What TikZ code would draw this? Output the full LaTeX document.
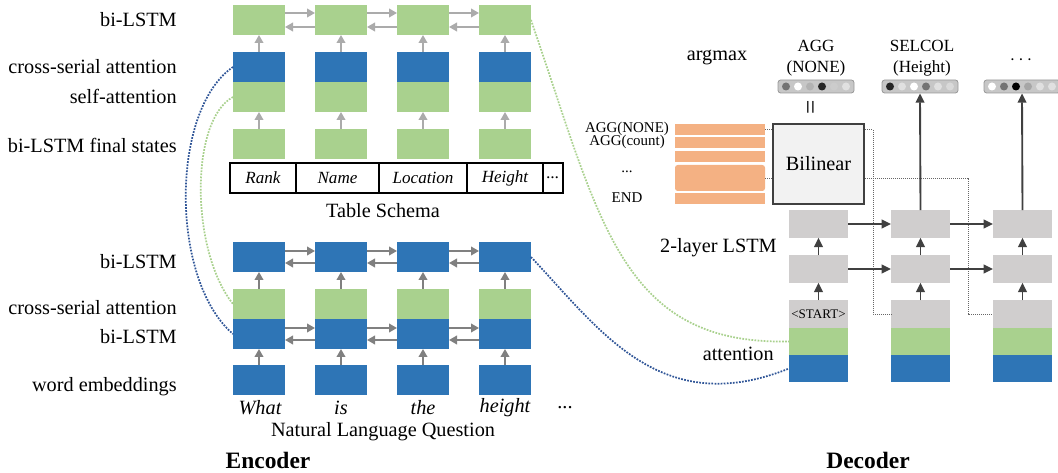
\documentclass[tikz,border=0pt]{standalone}
\usepackage{fontspec}
\setmainfont{Liberation Serif}
\usepackage{xcolor}
\usepackage{tikz}
\usetikzlibrary{arrows.meta, positioning, calc}

\definecolor{cellgreen}{HTML}{A9D18E}
\definecolor{cellblue}{HTML}{2E75B6}
\definecolor{cellgray}{HTML}{D0CECE}
\definecolor{cellorange}{HTML}{F4B183}
\definecolor{linkblue}{HTML}{2F5597}

\newcommand{\mainfs}{\fontsize{15.2}{17}\selectfont}
\newcommand{\midfs}{\fontsize{12.8}{15.8}\selectfont}
\newcommand{\smallfs}{\fontsize{11.2}{12}\selectfont}
\newcommand{\tinyfs}{\fontsize{9.8}{11}\selectfont}
\newcommand{\headfs}{\fontsize{17.6}{20}\bfseries\selectfont}

\begin{document}
\begin{tikzpicture}[
  x=0.75pt, y=-0.75pt,
  enc_box/.style={minimum width=39pt, minimum height=22.5pt, inner sep=0pt, outer sep=0pt},
  green_box/.style={enc_box, fill=cellgreen},
  blue_box/.style={enc_box, fill=cellblue},
  dec_box/.style={minimum width=44.25pt, minimum height=20.7pt, inner sep=0pt, outer sep=0pt, fill=cellgray},
  light_arrow/.style={-{Triangle[length=6pt, width=6.5pt]}, line width=1.3pt, draw=black!33, fill=black!33},
  dark_arrow/.style={light_arrow, draw=black!50, fill=black!50},
  dec_arrow/.style={-{Triangle[length=7pt, width=6.5pt]}, line width=1.4pt, draw=black!75, fill=black!75},
  side_label/.style={anchor=east, font=\mainfs, inner sep=0pt},
  cell/.style={draw, line width=1.3pt, minimum height=22.5pt, inner sep=0pt, font=\midfs\itshape},
  dist_bar/.style={draw=black!40, fill=black!22, rounded corners=2pt, minimum width=57pt, minimum height=9.75pt, inner sep=0pt, line width=0.6pt},
  orange_bar/.style={fill=cellorange, minimum width=67.5pt, minimum height=8.25pt, inner sep=0pt},
  guide/.style={draw=black!60, line width=0.6pt, dash pattern=on 0.75pt off 0.75pt},
  attn_blue/.style={draw=linkblue, line width=1.3pt, dash pattern=on 1.3pt off 1pt},
  attn_green/.style={draw=cellgreen, line width=1.3pt, dash pattern=on 1.3pt off 1pt}
]
  \useasboundingbox (0,0) rectangle (1058,473);

  % ENCODER: table schema and question columns
  \foreach \x [count=\i] in {259,341,423,505} {
    \node (tab_lstm\i) [green_box] at (\x,20) {};
    \node (tab_cross\i) [blue_box] at (\x,67) {};
    \node (tab_self\i) [green_box] at (\x,97) {};
    \node (tab_final\i) [green_box] at (\x,144) {};
    \node (q_lstm\i) [blue_box] at (\x,257) {};
    \node (q_cross\i) [green_box] at (\x,304) {};
    \node (q_enc\i) [blue_box] at (\x,334) {};
    \node (q_emb\i) [blue_box] at (\x,380) {};
    \draw[light_arrow] (tab_final\i.north) -- (tab_self\i.south);
    \draw[light_arrow] (tab_cross\i.north) -- (tab_lstm\i.south);
    \draw[dark_arrow] (q_emb\i.north) -- (q_enc\i.south);
    \draw[dark_arrow] (q_cross\i.north) -- (q_lstm\i.south);
  }
  \foreach \i/\j in {1/2,2/3,3/4} {
    \draw[light_arrow] ([yshift=5.25pt]tab_lstm\i.east) -- ([yshift=5.25pt]tab_lstm\j.west);
    \draw[light_arrow] ([yshift=-5.25pt]tab_lstm\j.west) -- ([yshift=-5.25pt]tab_lstm\i.east);
    \draw[dark_arrow] ([yshift=4.5pt]q_lstm\i.east) -- ([yshift=4.5pt]q_lstm\j.west);
    \draw[dark_arrow] ([yshift=-4.5pt]q_lstm\j.west) -- ([yshift=-4.5pt]q_lstm\i.east);
    \draw[dark_arrow] ([yshift=4.5pt]q_enc\i.east) -- ([yshift=4.5pt]q_enc\j.west);
    \draw[dark_arrow] ([yshift=-4.5pt]q_enc\j.west) -- ([yshift=-4.5pt]q_enc\i.east);
  }

  % Side labels
  \node (lbl_tab_lstm) [side_label] at (177,20) {bi-LSTM};
  \node (lbl_tab_cross) [side_label] at (177,67) {cross-serial attention};
  \node (lbl_tab_self) [side_label] at (177,96) {self-attention};
  \node (lbl_tab_final) [side_label] at (177,145) {bi-LSTM final states};
  \node (lbl_q_lstm) [side_label] at (177,262) {bi-LSTM};
  \node (lbl_q_cross) [side_label] at (177,308) {cross-serial attention};
  \node (lbl_q_enc) [side_label] at (177,337) {bi-LSTM};
  \node (lbl_q_emb) [side_label] at (177,387) {word embeddings};

  % Table schema cells
  \node (cell_rank) [cell, minimum width=49.5pt] at (263,178) {Rank};
  \node (cell_name) [cell, minimum width=62.25pt] at (337.5,178) {Name};
  \node (cell_loc) [cell, minimum width=66pt] at (423,178) {Location};
  \node (cell_height) [cell, minimum width=57pt] at (505,178) {Height};
  \node (cell_more) [cell, minimum width=15pt] at (553,178) {...};
  \node (schema_title) [font=\mainfs] at (383,211) {Table Schema};

  % Question words
  \node (word_what) [font=\mainfs\itshape] at (260,408) {What};
  \node (word_is) [font=\mainfs\itshape] at (341,408) {is};
  \node (word_the) [font=\mainfs\itshape] at (423,408) {the};
  \node (word_height) [font=\mainfs\itshape] at (505,408) {height};
  \node (word_more) [font=\mainfs] at (565,408) {...};
  \node (question_title) [font=\mainfs] at (383,432) {Natural Language Question};
  \node (enc_title) [font=\headfs] at (268,460) {Encoder};

  % DECODER: dotted guides first (Bilinear box sits on top)
  \node (or1) [orange_bar] at (720,129.5) {};
  \node (or2) [orange_bar] at (720,142.5) {};
  \node (or3) [orange_bar] at (720,156.5) {};
  \node (or4) [orange_bar, minimum height=19.5pt, rounded corners=2pt] at (720,178) {};
  \node (or5) [orange_bar] at (720,198.5) {};
  \coordinate (turn_a) at (873,314);
  \coordinate (turn_b) at (968,314);

  \foreach \x [count=\i] in {818.5,920.5,1022.5} {
    \node (dec_top\i) [dec_box] at (\x,224) {};
    \node (dec_bot\i) [dec_box] at (\x,269) {};
    \node (dec_in\i) [dec_box] at (\x,314) {};
    \node (dec_green\i) [dec_box, fill=cellgreen] at (\x,341.5) {};
    \node (dec_blue\i) [dec_box, fill=cellblue] at (\x,368.5) {};
    \draw[dec_arrow] (dec_in\i.north) -- (dec_bot\i.south);
    \draw[dec_arrow] (dec_bot\i.north) -- (dec_top\i.south);
  }
  \draw[guide] (or1.east) -| (turn_a) -- (dec_in2.west);
  \draw[guide] (or4.east) -| (turn_b) -- (dec_in3.west);

  \node (bilinear) [draw=black!75, line width=1.3pt, fill=black!5, minimum width=68.25pt, minimum height=60pt, font=\mainfs] at (818.5,164) {Bilinear};
  \node (start_tok) [font=\tinyfs, inner sep=0pt] at (dec_in1) {<START>};

  \node (act_none) [font=\smallfs, inner sep=0pt] at (627,128.5) {AGG(NONE)};
  \node (act_count) [font=\smallfs, inner sep=0pt] at (627,142) {AGG(count)};
  \node (act_more) [font=\smallfs, inner sep=0pt] at (627,172) {...};
  \node (act_end) [font=\smallfs, inner sep=0pt] at (627,198) {END};

  % Output distributions
  \node (dist_agg) [dist_bar] at (816,86.5) {};
  \node (dist_sel) [dist_bar] at (920,86.5) {};
  \node (dist_more) [dist_bar] at (1022,86.5) {};
  \foreach \tone [count=\k] in {black!55, white, black!30, black!85, black!20, black!12}
    \fill[\tone] (816-42+12*\k, 86.5) circle (3pt);
  \foreach \tone [count=\k] in {black!85, black!12, white, black!55, black!12, black!15}
    \fill[\tone] (920-42+12*\k, 86.5) circle (3pt);
  \foreach \tone [count=\k] in {white, black!55, black, black!35, black!12, black!12}
    \fill[\tone] (1022-42+12*\k, 86.5) circle (3pt);

  \node (agg_lbl) [font=\midfs, align=center] at (816,58.5) {AGG\\(NONE)};
  \node (sel_lbl) [font=\midfs, align=center] at (922,58.5) {SELCOL\\(Height)};
  \node (more_lbl) [font=\mainfs] at (1021,60) {$\cdots$};
  \node (argmax_lbl) [font=\mainfs] at (717,57) {argmax};
  \node (eq_sign) [font=\fontsize{19}{20}\selectfont, rotate=90, inner sep=0pt] at (813,107) {=};

  \node (lbl_dec_lstm) [side_label] at (777,248) {2-layer LSTM};
  \node (lbl_dec_attn) [side_label] at (774,354) {attention};
  \node (dec_title) [font=\headfs] at (868,460) {Decoder};

  % Connections
  \draw[dec_arrow] (dec_top1.east) -- (dec_top2.west);
  \draw[dec_arrow] (dec_top2.east) -- (dec_top3.west);
  \draw[dec_arrow] (dec_bot1.east) -- (dec_bot2.west);
  \draw[dec_arrow] (dec_bot2.east) -- (dec_bot3.west);
  \draw[dec_arrow] (dec_top2.north) -- (dist_sel.south);
  \draw[dec_arrow] (dec_top3.north) -- (dist_more.south);

  % Attention links
  \draw[attn_blue] (tab_cross1.west) .. controls (170,110) and (170,280) .. (q_enc1.west);
  \draw[attn_green] (tab_self1.west) .. controls (190,120) and (190,250) .. (q_cross1.west);
  \draw[attn_green] (tab_lstm4.east) .. controls (600,220) and (620,345) .. (dec_green1.west);
  \draw[attn_blue] (q_lstm4.east) .. controls (600,330) and (660,420) .. (dec_blue1.west);

\end{tikzpicture}
\end{document}
